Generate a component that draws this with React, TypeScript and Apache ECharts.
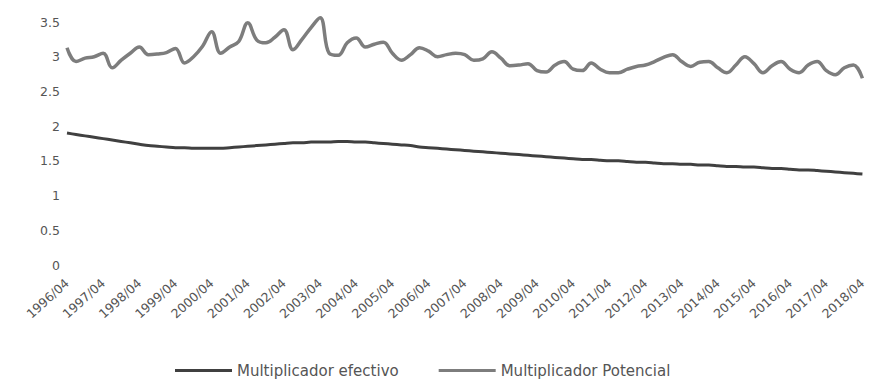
import React, { useEffect, useRef } from "react";
import * as echarts from "echarts";

const years = [
  1996, 1997, 1998, 1999, 2000, 2001, 2002, 2003, 2004, 2005, 2006, 2007,
  2008, 2009, 2010, 2011, 2012, 2013, 2014, 2015, 2016, 2017, 2018,
];

// category labels: quarterly, starting 1996/04 ending 2018/04
const categories: string[] = [];
years.forEach((y, k) => {
  if (k === years.length - 1) {
    categories.push(`${y}/04`);
  } else {
    categories.push(`${y}/04`, `${y}/07`, `${y}/10`, `${y + 1}/01`);
  }
});

const efectivo = [
  1.9, 1.88, 1.86, 1.84,
  1.82, 1.8, 1.78, 1.76,
  1.74, 1.72, 1.71, 1.7,
  1.69, 1.69, 1.68, 1.68,
  1.68, 1.68, 1.69, 1.7,
  1.71, 1.72, 1.73, 1.74,
  1.75, 1.76, 1.76, 1.77,
  1.77, 1.77, 1.78, 1.78,
  1.77, 1.77, 1.76, 1.75,
  1.74, 1.73, 1.72, 1.7,
  1.69, 1.68, 1.67, 1.66,
  1.65, 1.64, 1.63, 1.62,
  1.61, 1.6, 1.59, 1.58,
  1.57, 1.56, 1.55, 1.54,
  1.53, 1.52, 1.52, 1.51,
  1.5, 1.5, 1.49, 1.48,
  1.48, 1.47, 1.46, 1.46,
  1.45, 1.45, 1.44, 1.44,
  1.43, 1.42, 1.42, 1.41,
  1.41, 1.4, 1.39, 1.39,
  1.38, 1.37, 1.37, 1.36,
  1.35, 1.34, 1.33, 1.32,
  1.31,
];

const potencial = [
  3.13, 2.93, 2.98, 3.0,
  3.05, 2.84, 2.95, 3.05,
  3.14, 3.03, 3.04, 3.06,
  3.12, 2.91, 3.0, 3.15,
  3.36, 3.05, 3.14, 3.22,
  3.49, 3.24, 3.2, 3.28,
  3.39, 3.1, 3.25, 3.42,
  3.56, 3.05, 3.02, 3.2,
  3.27, 3.14, 3.18, 3.21,
  3.05, 2.95, 3.03, 3.13,
  3.08, 3.0, 3.03, 3.05,
  3.03, 2.95, 2.97, 3.07,
  2.98, 2.87, 2.88, 2.9,
  2.8, 2.78, 2.88, 2.93,
  2.82, 2.8, 2.91, 2.82,
  2.77, 2.77, 2.82, 2.86,
  2.88, 2.93, 2.99, 3.03,
  2.93, 2.86, 2.92, 2.93,
  2.84, 2.77, 2.88, 3.0,
  2.9, 2.77, 2.87, 2.93,
  2.82, 2.77, 2.88, 2.93,
  2.8, 2.74, 2.84, 2.88,
  2.69,
];

const seriesNames = ["Multiplicador efectivo", "Multiplicador Potencial"];
const yTicks = { min: 0, max: 3.5, interval: 0.5 };

export default function App() {
  const ref = useRef<HTMLDivElement>(null);
  useEffect(() => {
    if (!ref.current) return;
    const chart = echarts.init(ref.current, undefined, { renderer: "svg" });
    const font = "DejaVu Sans";
    chart.setOption({
      animation: false,
      backgroundColor: "#ffffff",
      textStyle: { fontFamily: font },
      grid: { left: 67, right: 2, top: 22, bottom: 118 },
      legend: {
        left: 170,
        top: 358,
        itemWidth: 57,
        itemHeight: 3,
        itemGap: 40,
        icon: "rect",
        textStyle: { fontFamily: font, fontSize: 15, color: "#555" },
        data: seriesNames,
      },
      xAxis: {
        type: "category",
        data: categories,
        boundaryGap: false,
        axisLine: { show: false },
        axisTick: { show: false },
        splitLine: { show: false },
        axisLabel: {
          interval: 3,
          rotate: 42,
          margin: 16,
          fontFamily: font,
          fontSize: 12.5,
          color: "#555",
        },
      },
      yAxis: {
        type: "value",
        min: yTicks.min,
        max: yTicks.max,
        interval: yTicks.interval,
        axisLine: { show: false },
        axisTick: { show: false },
        splitLine: { show: false },
        axisLabel: { margin: 7, fontFamily: font, fontSize: 12.5, color: "#555" },
      },
      series: [
        {
          name: seriesNames[0],
          type: "line",
          data: efectivo,
          smooth: 0.3,
          symbol: "none",
          clip: false,
          itemStyle: { color: "#404040" },
          lineStyle: { color: "#404040", width: 3 },
        },
        {
          name: seriesNames[1],
          type: "line",
          data: potencial,
          smooth: 0.4,
          symbol: "none",
          clip: false,
          itemStyle: { color: "#7d7d7d" },
          lineStyle: { color: "#7d7d7d", width: 3.5 },
        },
      ],
    });
    return () => chart.dispose();
  }, []);
  return (
    <div
      ref={ref}
      style={{ position: "fixed", left: 0, top: 0, width: 869, height: 383 }}
    />
  );
}
